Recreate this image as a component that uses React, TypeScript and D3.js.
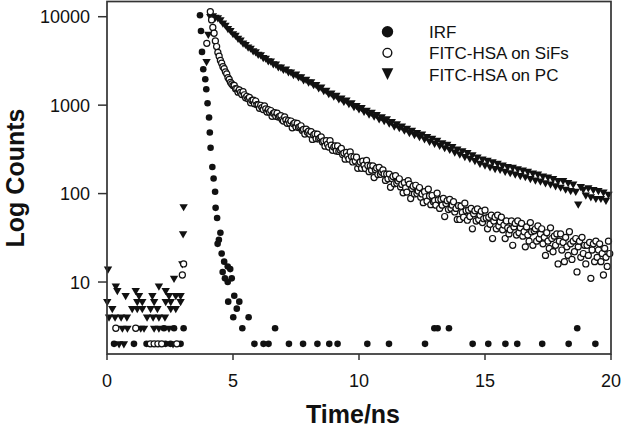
import React from "react";
import * as d3 from "d3";

const W = 622;
const H = 429;

const xTicks = [0, 5, 10, 15, 20];
const yTicks = [10, 100, 1000, 10000];
const xDomain = [0, 20];
const yDomain = [1.535, 14860];
const legendLabels = ["IRF", "FITC-HSA on SiFs", "FITC-HSA on PC"];

// IRF (filled circles)
const irfTime = [0.28, 1.07, 1.57, 2.32, 2.52, 2.92, 2.26, 2.66, 3.04,
  3.69, 3.73, 3.77, 3.82, 3.9, 3.94, 3.99, 4.05, 4.08, 4.11,
  4.18, 4.23, 4.29, 4.31, 4.37, 4.39, 4.44, 4.5, 4.55, 4.59,
  4.65, 4.68, 4.79, 4.79, 4.81, 4.89, 4.95, 5.01, 5.05, 5.15,
  5.25, 5.37, 5.62, 5.85, 6.21, 6.41, 6.67, 7.22, 7.78, 8.35,
  8.82, 9.15, 10.33, 11.19, 12.62, 12.99, 13.12, 13.57, 14.51, 15.13,
  15.81, 16.28, 17.27, 18.32, 18.66, 19.38];
const irfCounts = [2, 2, 2, 2, 2, 2, 3, 3, 3,
  10400, 6900, 4000, 2550, 1960, 1510, 1050, 725, 490, 330,
  200, 148, 105, 69, 53, 27, 30, 36, 21, 13,
  17, 11, 15, 10, 6, 14, 11, 4, 7, 5,
  6, 3, 4, 2, 2, 2, 3, 2, 2, 2,
  2, 2, 2, 2, 2, 3, 3, 3, 2, 2,
  2, 2, 2, 2, 3, 2];

// FITC-HSA on SiFs (open circles): baseline + rise
const sifsBaseTime = [0.35, 1.14, 1.72, 1.87, 2.02, 2.17, 2.77, 2.99, 3.04, 3.96];
const sifsBaseCounts = [3, 3, 2, 2, 2, 2, 2, 12, 16, 5000];
// decay channels from 4.10 ns, 0.05 ns per channel
const sifsDecayStart = 4.1;
const sifsDecayStep = 0.05;
const sifsDecayCounts = [
  11400, 9200, 7550, 6500, 5330, 4600, 3950, 3580, 3200, 2980, 2720, 2590, 2380, 2260, 2050, 1950, 1810, 1740,
  1671, 1668, 1532, 1527, 1403, 1484, 1393, 1319, 1418, 1310,
  1209, 1259, 1185, 1222, 1062, 1132, 1138, 1040, 1112, 1010,
  1004, 922, 996, 938, 893, 980, 908, 835, 887, 832,
  869, 747, 809, 820, 747, 811, 734, 747, 762, 683,
  662, 737, 680, 623, 669, 625, 661, 555, 615, 628,
  567, 621, 559, 569, 584, 518, 531, 471, 534, 493,
  507, 470, 500, 410, 461, 472, 418, 469, 415, 426,
  438, 383, 394, 344, 396, 362, 336, 396, 353, 309,
  336, 346, 303, 345, 300, 311, 324, 277, 287, 245,
  292, 266, 246, 296, 262, 228, 259, 234, 258, 193,
  218, 227, 193, 232, 209, 192, 237, 208, 177, 206,
  184, 206, 152, 186, 195, 164, 198, 165, 174, 185,
  167, 141, 166, 147, 166, 118, 148, 156, 129, 159,
  131, 139, 147, 119, 127, 102, 133, 116, 104, 140,
  128, 88, 114, 121, 99, 124, 100, 107, 117, 91,
  99, 79, 105, 92, 82, 112, 94, 75, 95, 81,
  83, 74, 101, 85, 68, 86, 74, 88, 55, 77,
  83, 66, 86, 68, 74, 81, 62, 68, 51, 73,
  51, 72, 61, 54, 78, 64, 50, 65, 55, 68,
  40, 59, 64, 49, 67, 51, 57, 63, 47, 52,
  65, 53, 40, 54, 45, 57, 31, 49, 54, 40,
  57, 43, 48, 54, 39, 44, 31, 49, 41, 35,
  39, 49, 26, 42, 46, 34, 49, 36, 41, 46,
  33, 37, 25, 42, 34, 29, 47, 37, 26, 38,
  40, 29, 43, 31, 35, 40, 27, 32, 20, 36,
  29, 24, 41, 31, 22, 33, 26, 35, 16, 29,
  35, 23, 28, 17, 32, 25, 20, 37, 27, 18,
  29, 22, 31, 13, 25, 29, 19, 32, 21, 26,
  16, 26, 20, 28, 11, 23, 27, 17, 29, 19,
  23, 27, 17, 21, 12, 24, 19, 15, 29, 21,
];

// FITC-HSA on PC (filled down triangles): baseline + rise
const pcBaseTime = [0.48, 0.67, 2.62,
  0.61, 0.81, 1.34, 1.47, 1.87, 2.06, 2.46,
  0.08, 0.32, 0.56, 0.79, 1.59, 1.83, 2.06, 2.3,
  0.21, 1.0, 1.2, 1.4, 1.73, 2.0, 2.53, 2.73,
  0.01, 1.2, 1.4, 1.87, 2.33, 2.53, 2.92,
  0.74, 1.27, 1.8, 2.46, 2.73, 2.92,
  0.41, 1.14, 2.33,
  0.35, 2.06,
  0.04, 2.66, 2.99, 3.02, 3.04, 3.95, 4.02];
const pcBaseCounts = [2, 2, 2,
  3, 3, 3, 3, 3, 3, 3,
  4, 4, 4, 4, 4, 4, 4, 4,
  5, 5, 5, 5, 5, 5, 5, 5,
  6, 6, 6, 6, 6, 6, 6,
  7, 7, 7, 7, 7, 7,
  8, 8, 8,
  9, 9,
  14, 11, 16, 35, 71, 3100, 6300];
// decay channels from 4.1 ns, 0.1 ns per point
const pcDecayStart = 4.1;
const pcDecayStep = 0.1;
const pcDecayCounts = [
  10000, 10200, 9850, 9700,
  9200, 8450, 8010, 7350, 6980,
  6420, 6150, 5690, 5440, 5030,
  4850, 4520, 4400, 4110, 4010,
  3760, 3700, 3450, 3390, 3170,
  3140, 2930, 2910, 2700, 2690,
  2530, 2550, 2380, 2370, 2210,
  2240, 2080, 2090, 1930, 1960,
  1820, 1840, 1700, 1710, 1570,
  1600, 1460, 1470, 1350, 1370,
  1260, 1290, 1180, 1200, 1100,
  1140, 1040, 1060, 960, 990,
  905, 940, 850, 875, 790,
  830, 750, 780, 700, 735,
  670, 700, 625, 650, 580,
  615, 555, 580, 520, 545,
  490, 520, 465, 490, 440,
  470, 415, 440, 390, 420,
  370, 400, 350, 375, 330,
  360, 315, 340, 295, 318,
  280, 305, 262, 290, 250,
  275, 236, 258, 220, 245,
  210, 238, 200, 228, 192,
  220, 188, 210, 178, 202,
  172, 198, 166, 190, 160,
  184, 155, 178, 148, 170,
  142, 166, 138, 158, 132,
  154, 128, 148, 122, 140,
  118, 140, 112, 133, 108,
  128, 106, 76, 120, 112,
  96, 116, 92, 111, 88,
  108, 88, 104, 84, 98,
];

type Pt = { t: number; c: number };

const zipPts = (ts: number[], cs: number[]): Pt[] => ts.map((t, i) => ({ t, c: cs[i] }));
const channelPts = (start: number, step: number, cs: number[]): Pt[] =>
  cs.map((c, i) => ({ t: start + i * step, c }));

const irfPts = zipPts(irfTime, irfCounts);
const sifsPts = [...zipPts(sifsBaseTime, sifsBaseCounts), ...channelPts(sifsDecayStart, sifsDecayStep, sifsDecayCounts)];
const pcPts = [...zipPts(pcBaseTime, pcBaseCounts), ...channelPts(pcDecayStart, pcDecayStep, pcDecayCounts)];

const left = 107;
const right = 611;
const top = 1.5;
const bottom = 354;

const FONT = "'Liberation Sans', Arial, Helvetica, sans-serif";
const AXIS = "#333";
const INK = "#111";

const tri = (cx: number, cy: number, hw: number, up: number, down: number) =>
  `M${cx - hw},${cy - up}L${cx + hw},${cy - up}L${cx},${cy + down}Z`;

export default function App() {
  const x = d3.scaleLinear().domain(xDomain).range([left, right]);
  const y = d3.scaleLog().domain(yDomain).range([bottom, top]);

  return (
    <svg
      width={W}
      height={H}
      viewBox={`0 0 ${W} ${H}`}
      style={{ position: "absolute", left: 0, top: 0, background: "#fff" }}
      fontFamily={FONT}
    >
      <rect x={0} y={0} width={W} height={H} fill="#fff" />

      {/* data */}
      <g>
        {irfPts.map((p, i) => (
          <circle key={"i" + i} cx={x(p.t)} cy={y(p.c)} r={3.3} fill={INK} />
        ))}
      </g>
      <g>
        {pcPts.map((p, i) => (
          <path key={"p" + i} d={tri(x(p.t), y(p.c), 4.2, 2.6, 4.6)} fill={INK} />
        ))}
      </g>
      <g>
        {sifsPts.map((p, i) => (
          <circle key={"s" + i} cx={x(p.t)} cy={y(p.c)} r={3.05} fill="#fff" stroke={INK} strokeWidth={1.2} />
        ))}
      </g>

      {/* frame */}
      <rect x={left} y={top} width={right - left} height={bottom - top} fill="none" stroke={AXIS} strokeWidth={1.7} />

      {/* x axis */}
      {xTicks.map((t) => (
        <g key={"xt" + t}>
          <line x1={x(t)} x2={x(t)} y1={bottom} y2={bottom + 6} stroke={AXIS} strokeWidth={1.5} />
          <text x={x(t)} y={386.5} textAnchor="middle" fontSize={18} fill={INK}>
            {t}
          </text>
        </g>
      ))}

      {/* y axis */}
      {yTicks.map((v) => (
        <g key={"yt" + v}>
          <line x1={left - 9} x2={left} y1={y(v)} y2={y(v)} stroke={AXIS} strokeWidth={1.5} />
          <text x={90} y={y(v) + 6.5} textAnchor="end" fontSize={18} fill={INK}>
            {v}
          </text>
        </g>
      ))}

      {/* titles */}
      <text x={353} y={423} textAnchor="middle" fontSize={25} fontWeight="bold" fill={INK}>
        Time/ns
      </text>
      <text
        transform={`translate(23.5,178) rotate(-90)`}
        textAnchor="middle"
        fontSize={25}
        fontWeight="bold"
        fill={INK}
      >
        Log Counts
      </text>

      {/* legend */}
      <g>
        <circle cx={387.5} cy={31.7} r={5.7} fill={INK} />
        <circle cx={387.4} cy={52.8} r={4.4} fill="#fff" stroke={INK} strokeWidth={1.4} />
        <path d={tri(387.5, 73.5, 5.8, 5.2, 6.6)} fill={INK} />
        {legendLabels.map((l, i) => (
          <text key={l} x={429} y={37.5 + i * 21.5} fontSize={17} fill={INK}>
            {l}
          </text>
        ))}
      </g>
    </svg>
  );
}
